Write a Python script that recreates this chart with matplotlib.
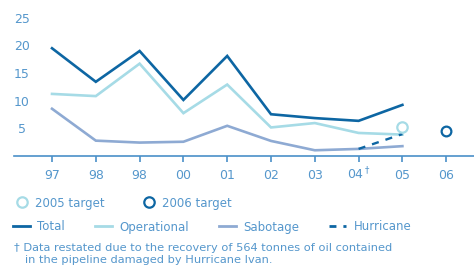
import matplotlib
matplotlib.use("Agg")
import matplotlib.pyplot as plt
from matplotlib.lines import Line2D

# ---- data
years = ["97", "98", "98", "00", "01", "02", "03", r"04$^\dagger$", "05", "06"]
total = [19.5, 13.4, 19.0, 10.1, 18.1, 7.5, 6.8, 6.3, 9.2]
operational = [11.2, 10.8, 16.7, 7.7, 12.9, 5.1, 5.9, 4.1, 3.8]
sabotage = [8.5, 2.7, 2.35, 2.5, 5.4, 2.65, 0.95, 1.2, 1.7]
hurricane_x = [7, 8]
hurricane = [1.2, 3.9]
target_2005 = 5.1
target_2006 = 4.5
yticks = [5, 10, 15, 20, 25]
footnote = ("\u2020 Data restated due to the recovery of 564 tonnes of oil contained\n"
            "   in the pipeline damaged by Hurricane Ivan.")

C_TOTAL = "#0d66a3"
C_OPER = "#a6dbe6"
C_SABO = "#8eaad3"
C_TEXT = "#5597cc"
C_AXIS = "#4a90c8"

plt.rcParams["font.family"] = ["DejaVu Sans"]
plt.rcParams["mathtext.fontset"] = "dejavusans"

fig = plt.figure(figsize=(4.74, 2.72), dpi=100)
W, H = 474.0, 272.0
ax = fig.add_axes([14 / W, 116.5 / H, 460 / W, 137.5 / H])

x = list(range(len(total)))
ax.plot(x, total, color=C_TOTAL, lw=1.9, solid_joinstyle="miter")
ax.plot(x, operational, color=C_OPER, lw=1.9, solid_joinstyle="miter")
ax.plot(x, sabotage, color=C_SABO, lw=1.9, solid_joinstyle="miter")
ax.plot(hurricane_x, hurricane, color=C_TOTAL, lw=1.7, dashes=(3, 3))
ax.plot([8], [target_2005], "o", ms=7.5, mfc="white", mec=C_OPER, mew=1.6)
ax.plot([9], [target_2006], "o", ms=7.0, mfc="white", mec=C_TOTAL, mew=1.6)

ax.set_xlim(-0.868, 9.635)
ax.set_ylim(0, 25)
ax.set_xticks(range(len(years)))
ax.set_xticklabels(years, va="baseline")
ax.set_yticks(yticks)
ax.set_yticklabels([str(v) for v in yticks], ha="center")

for s in ["top", "right", "left"]:
    ax.spines[s].set_visible(False)
ax.spines["bottom"].set_color(C_AXIS)
ax.spines["bottom"].set_linewidth(1.2)
ax.tick_params(axis="x", colors=C_AXIS, length=4, width=1.2, pad=13,
               labelcolor=C_TEXT, labelsize=9)
ax.tick_params(axis="y", length=0, pad=-5.5, labelcolor=C_TEXT, labelsize=9)
ax.patch.set_alpha(0)

# legend row 1: targets
h1 = [Line2D([], [], ls="none", marker="o", ms=7.5, mfc="white", mec=C_OPER, mew=1.6),
      Line2D([], [], ls="none", marker="o", ms=7.5, mfc="white", mec=C_TOTAL, mew=1.6)]
leg1 = fig.legend(h1, ["2005 target", "2006 target"], loc="center left",
                  bbox_to_anchor=(16 / W, 69 / H), ncol=2, frameon=False,
                  fontsize=8.5, labelcolor=C_TEXT, handlelength=1.0,
                  handletextpad=0.6, columnspacing=3.3, borderaxespad=0, borderpad=0)

# legend row 2: series
h2 = [Line2D([], [], color=C_TOTAL, lw=2),
      Line2D([], [], color=C_OPER, lw=2),
      Line2D([], [], color=C_SABO, lw=2),
      Line2D([], [], color=C_TOTAL, lw=2, dashes=(2.5, 2.5))]
leg2 = fig.legend(h2, ["Total", "Operational", "Sabotage", "Hurricane"], loc="center left",
                  bbox_to_anchor=(13 / W, 45 / H), ncol=4, frameon=False,
                  fontsize=8.5, labelcolor=C_TEXT, handlelength=1.45,
                  handletextpad=0.6, columnspacing=2.55, borderaxespad=0, borderpad=0)

fig.text(14 / W, 1 - 243 / H, footnote, color=C_TEXT, fontsize=8.2,
         va="top", ha="left", linespacing=1.3)

fig.savefig("out.png", dpi=100)
